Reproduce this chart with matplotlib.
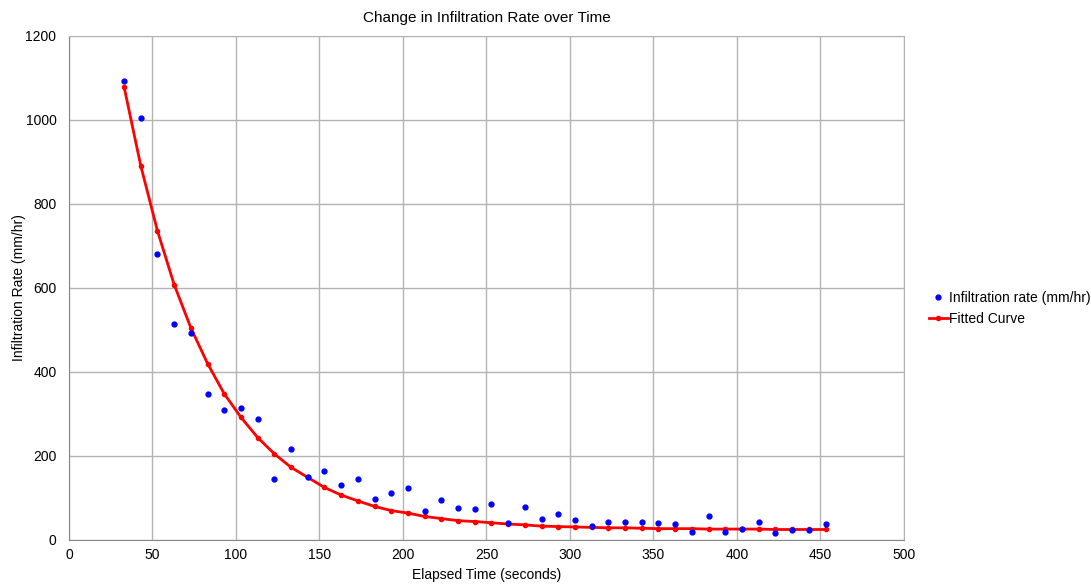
import numpy as np
import matplotlib
matplotlib.use("Agg")
import matplotlib.pyplot as plt

plt.rcParams['font.family'] = ['Liberation Sans', 'DejaVu Sans']

# elapsed time (s)
elapsed = [33, 43, 53, 63, 73, 83, 93, 103, 113, 123, 133, 143, 153, 163, 173,
           183, 193, 203, 213, 223, 233, 243, 253, 263, 273, 283, 293, 303, 313,
           323, 333, 343, 353, 363, 373, 383, 393, 403, 413, 423, 433, 443, 453]

# measured infiltration rate (mm/hr)
measured = [1092, 1005, 680, 515, 494, 347, 310, 315, 288, 146, 217, 150, 165,
            132, 146, 97, 112, 124, 68, 96, 76, 73, 85, 41, 79, 50, 61, 48, 33,
            43, 42, 42, 41, 39, 19, 56, 18, 26, 43, 16, 24, 23, 38]

# fitted curve values
fitted = [1079, 891, 736, 608, 505, 420, 348, 292, 244, 205, 173, 149, 125,
          107, 93, 80, 70, 64, 56, 51, 46, 44, 41, 38, 36, 33, 32, 31, 30,
          29, 29, 28, 27, 27, 27, 26, 26, 26, 26, 25, 25, 25, 25]

fig = plt.figure(figsize=(10.91, 5.86), dpi=100)
ax = fig.add_axes([0.0632, 0.0785, 0.7654, 0.8601])

ax.plot(elapsed, measured, linestyle='none', marker='o', markersize=3.5,
        color='#0000ff', label='Infiltration rate (mm/hr)', zorder=3)
ax.plot(elapsed, fitted, color='#ff0000', linewidth=2, marker='o',
        markersize=3, label='Fitted Curve', zorder=2)

ax.set_xlim(0, 500)
ax.set_ylim(0, 1200)
ax.set_xticks(np.arange(0, 501, 50))
ax.set_yticks(np.arange(0, 1201, 200))
ax.grid(True, color='#b3b3b3', linewidth=1)
ax.set_axisbelow(True)
ax.tick_params(length=0, labelsize=10, colors='black')
ax.tick_params(axis='y', pad=9)
ax.tick_params(axis='x', pad=6)
for side in ['top', 'right']:
    ax.spines[side].set_color('#b3b3b3')
for side in ['left', 'bottom']:
    ax.spines[side].set_color('#888888')

ax.set_title('Change in Infiltration Rate over Time', fontsize=11, pad=10)
ax.set_xlabel('Elapsed Time (seconds)', fontsize=10, labelpad=4)
ax.set_ylabel('Infiltration Rate (mm/hr)', fontsize=10)
ax.yaxis.set_label_coords(-0.051, 0.5)

fig.legend(loc='center left', bbox_to_anchor=(0.846, 0.474), frameon=False,
           fontsize=10, handlelength=1.4, handletextpad=0.1, borderaxespad=0,
           labelspacing=0.5)

fig.savefig('out.png', dpi=100)
